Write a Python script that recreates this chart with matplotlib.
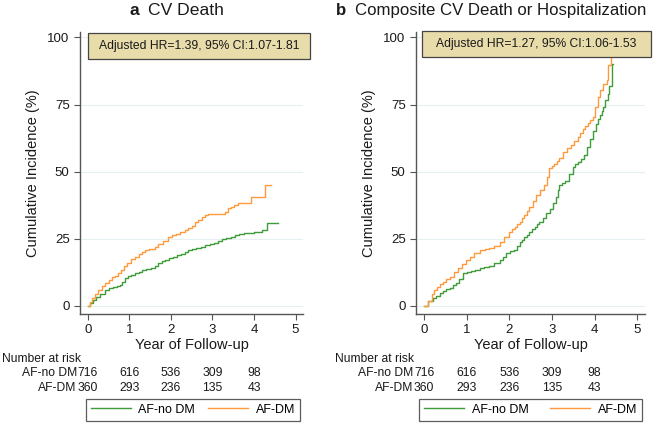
import numpy as np
import matplotlib
matplotlib.use('Agg')
import matplotlib.pyplot as plt
from matplotlib.lines import Line2D
from matplotlib.patches import Rectangle
from matplotlib.transforms import blended_transform_factory

plt.rcParams['font.family'] = ['Liberation Sans', 'DejaVu Sans']

groupLabels = ['AF-no DM', 'AF-DM']
riskYears = [0, 1, 2, 3, 4]
riskNoDm = [716, 616, 536, 309, 98]
riskDm = [360, 293, 236, 135, 43]

# Panel a: CV death (cumulative incidence, %)
tANoDm = [0, 0.05, 0.12, 0.2, 0.3, 0.41, 0.5, 0.6, 0.7, 0.77, 0.83, 0.89, 0.97, 1.05,
          1.13, 1.22, 1.3, 1.4, 1.53, 1.62, 1.7, 1.78, 1.85, 1.95, 2.05, 2.15, 2.25,
          2.33, 2.42, 2.5, 2.6, 2.73, 2.82, 2.93, 3.03, 3.13, 3.22, 3.32, 3.45, 3.55,
          3.65, 3.77, 3.9, 4.0, 4.09, 4.2, 4.32, 4.57]
yANoDm = [0, 1.2, 2.2, 3.2, 4.5, 6, 6.5, 7, 7.5, 7.8, 9, 10.4, 11, 11.6,
          12.1, 12.8, 13.3, 13.6, 14, 15, 16, 16.6, 17.1, 17.8, 18.4, 18.9, 19.5,
          20.2, 20.7, 21.1, 21.5, 22, 22.6, 23.1, 23.6, 24.3, 24.8, 25.2, 25.8, 26.3,
          26.7, 27, 27.2, 27.4, 27.6, 28.3, 31, 31]
tADm = [0, 0.04, 0.1, 0.17, 0.25, 0.33, 0.41, 0.5, 0.58, 0.66, 0.73, 0.8, 0.87, 0.95,
        1.05, 1.13, 1.22, 1.3, 1.37, 1.48, 1.61, 1.7, 1.8, 1.93, 2.02, 2.12, 2.22,
        2.33, 2.42, 2.5, 2.57, 2.66, 2.75, 2.82, 2.89, 3.3, 3.37, 3.45, 3.53, 3.61,
        3.75, 3.89, 3.93, 4.27, 4.4]
yADm = [0, 1.5, 3, 4.5, 6, 7.4, 8.4, 9.8, 10.6, 11.3, 12.1, 13.5, 15, 16,
        17.3, 18.3, 19.3, 20.1, 20.8, 21.3, 21.8, 23, 24.3, 25.8, 26.4, 26.9, 27.5,
        28.3, 29, 29.8, 31.3, 32, 33, 33.7, 34.2, 35, 36.3, 36.9, 37.5, 38.2,
        38.3, 38.5, 40.6, 45, 45]

# Panel b: composite CV death or hospitalization (cumulative incidence, %)
tBNoDm = [0, 0.1, 0.2, 0.28, 0.37, 0.45, 0.52, 0.6, 0.68, 0.75, 0.82, 0.91, 1.0, 1.1,
          1.2, 1.3, 1.4, 1.53, 1.65, 1.77, 1.85, 1.93, 2.02, 2.1, 2.17, 2.24, 2.3,
          2.35, 2.41, 2.47, 2.53, 2.6, 2.65, 2.7, 2.78, 2.86, 2.95, 3.02, 3.09, 3.13,
          3.17, 3.23, 3.3, 3.4, 3.49, 3.55, 3.6, 3.68, 3.76, 3.83, 3.9, 3.97, 4.03,
          4.08, 4.12, 4.16, 4.19, 4.25, 4.31, 4.33, 4.41, 4.43]
yBNoDm = [0, 1.8, 3, 3.8, 4.7, 5.5, 6.2, 6.8, 7.8, 8.6, 10, 12.1, 12.6, 13,
          13.5, 14, 14.4, 14.9, 16, 17.1, 18.3, 19.6, 20.3, 21, 22.5, 23.9, 24.7,
          25.5, 26.5, 27.6, 28.5, 29.5, 30.5, 31.3, 32.8, 34.5, 36, 38.5, 40.6, 43,
          45, 45.6, 46.5, 49, 51.8, 52.7, 53.5, 54.8, 56.1, 59, 62, 65, 67.9,
          69.5, 71, 72.5, 74, 76.5, 79, 82, 90, 90]
tBDm = [0, 0.08, 0.18, 0.24, 0.3, 0.38, 0.45, 0.52, 0.6, 0.7, 0.8, 0.9, 0.98, 1.07,
        1.18, 1.3, 1.42, 1.53, 1.65, 1.77, 1.88, 2.0, 2.06, 2.12, 2.18, 2.24, 2.3,
        2.35, 2.41, 2.47, 2.55, 2.63, 2.72, 2.82, 2.88, 2.94, 3.0, 3.05, 3.11, 3.17,
        3.25, 3.35, 3.45, 3.52, 3.6, 3.66, 3.72, 3.78, 3.85, 3.9, 3.95, 4.01, 4.07,
        4.13, 4.19, 4.28, 4.31, 4.38, 4.42]
yBDm = [0, 2, 4.5, 5.8, 7.2, 8.2, 9, 10, 10.9, 12.5, 14, 15.5, 17, 18.3,
        19.7, 20.8, 21.1, 21.4, 22.5, 23.9, 25.8, 27.6, 28.5, 29.5, 30.4, 31.3, 32.7,
        34, 35.5, 36.9, 39, 41.3, 43, 45, 48, 51.2, 52, 53, 54, 54.9,
        57.3, 58.8, 60, 61.5, 62.9, 64.5, 66, 67, 68, 69.2, 70.4, 74, 77.8,
        80.3, 82.8, 84, 89.6, 96, 96]

greenColor = '#3f9c3a'
orangeColor = '#ff9a3c'
axisColor = '#555555'
textColor = '#1a1a1a'
W, H = 660, 423


def plotPanel(fig, leftPx, rightPx, letter, title, titleX, titleSize, hrText, boxPx,
              tNoDm, yNoDm, tDm, yDm, legPx, headerX):
    ax = fig.add_axes([leftPx / W, 1 - 314 / H, (rightPx - leftPx) / W, (314 - 32) / H])
    ax.set_xlim(-0.19, 5.18)
    ax.set_ylim(-3, 102)
    for g in [0, 25, 50, 75, 100]:
        ax.axhline(g, color='#e6eff2', lw=0.8, zorder=0)
    ax.step(tNoDm, yNoDm, where='post', color=greenColor, lw=1.0, zorder=2)
    ax.step(tDm, yDm, where='post', color=orangeColor, lw=1.0, zorder=2)
    for s in ['top', 'right']:
        ax.spines[s].set_visible(False)
    for s in ['left', 'bottom']:
        ax.spines[s].set_color(axisColor)
        ax.spines[s].set_linewidth(1.0)
    ax.set_xticks([0, 1, 2, 3, 4, 5])
    ax.set_yticks([0, 25, 50, 75, 100])
    ax.tick_params(colors=axisColor, labelcolor=textColor, labelsize=9.5, length=4)
    ax.set_xlabel('Year of Follow-up', fontsize=10.5, labelpad=1, color=textColor)
    ax.set_ylabel('Cumulative Incidence (%)', fontsize=10.5, labelpad=5, color=textColor)

    # hazard ratio box
    bx0, bx1, by0, by1 = boxPx
    fig.add_artist(Rectangle((bx0 / W, 1 - by1 / H), (bx1 - bx0) / W, (by1 - by0) / H,
                             transform=fig.transFigure, fc='#e8dcab', ec='#444444',
                             lw=0.9, zorder=5))
    fig.text((bx0 + bx1) / 2 / W, 1 - (by0 + by1) / 2 / H, hrText, fontsize=8.7,
             ha='center', va='center', color=textColor, zorder=6)

    # title with bold panel letter
    fig.text(titleX / W, 1 - 15 / H, title, fontsize=titleSize, ha='left', va='baseline',
             color=textColor)
    fig.text((titleX - 9) / W, 1 - 15 / H, letter, fontsize=titleSize, fontweight='bold',
             ha='right', va='baseline', color=textColor)

    # number at risk table
    blend = blended_transform_factory(ax.transData, fig.transFigure)
    fig.text(headerX / W, 1 - 359 / H, 'Number at risk', fontsize=8.7, va='center',
             color=textColor)
    for rowY, label, counts in [(373, groupLabels[0], riskNoDm), (388, groupLabels[1], riskDm)]:
        yFig = 1 - rowY / H
        ax.annotate(label, xy=(0, yFig), xycoords=blend, xytext=(-8, 0),
                    textcoords='offset points', ha='right', va='center',
                    fontsize=8.7, color=textColor, annotation_clip=False)
        for yr, c in zip(riskYears, counts):
            ax.text(yr, yFig, str(c), transform=blend, ha='center', va='center',
                    fontsize=8.7, color=textColor, clip_on=False)

    handles = [Line2D([], [], color=greenColor, lw=1.0),
               Line2D([], [], color=orangeColor, lw=1.0)]
    lx0, lx1 = legPx
    leg = ax.legend(handles, groupLabels, loc='upper left', ncol=2, mode='expand',
                    bbox_to_anchor=(lx0 / W, 1 - 399 / H, (lx1 - lx0) / W, 0.001),
                    bbox_transform=fig.transFigure, fontsize=9, frameon=True,
                    fancybox=False, handlelength=3.2, handletextpad=0.6,
                    borderpad=0.4, borderaxespad=0, columnspacing=1.5)
    leg.get_frame().set_edgecolor('#333333')
    leg.get_frame().set_linewidth(0.9)
    return ax


def main():
    fig = plt.figure(figsize=(6.6, 4.23), dpi=100)
    plotPanel(fig, 80, 303, 'a', 'CV Death', 148, 12.6,
              'Adjusted HR=1.39, 95% CI:1.07-1.81', (88, 310, 33, 59),
              tANoDm, yANoDm, tADm, yADm, (86, 300), 2)
    plotPanel(fig, 416, 645, 'b', 'Composite CV Death or Hospitalization', 355, 12.1,
              'Adjusted HR=1.27, 95% CI:1.06-1.53', (422, 651, 31, 57),
              tBNoDm, yBNoDm, tBDm, yBDm, (419, 642), 335)
    fig.savefig('out.png', dpi=100)


if __name__ == "__main__":
    main()
